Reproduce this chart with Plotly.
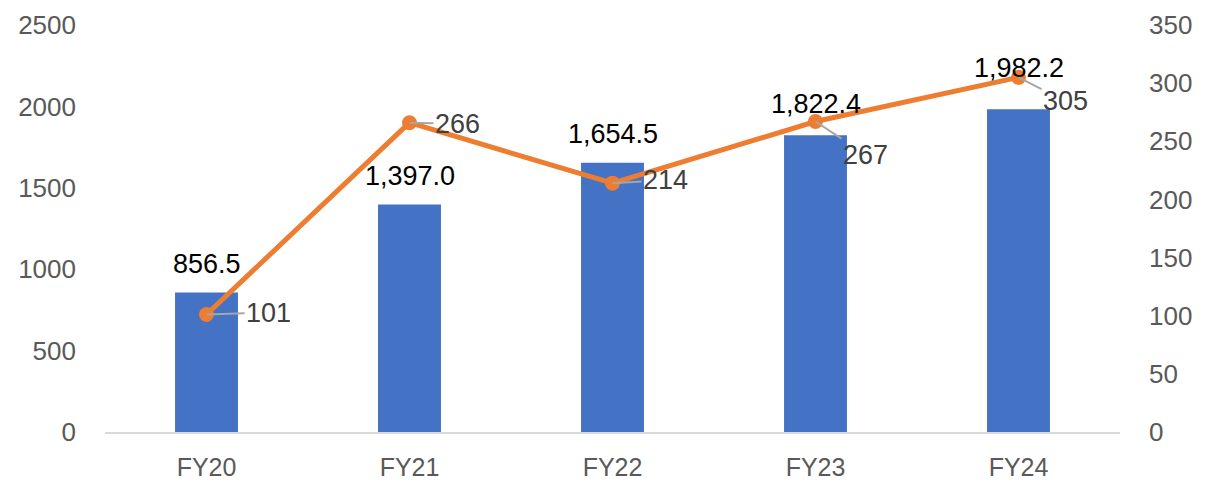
import plotly.graph_objects as go

# Data
years = ["FY20", "FY21", "FY22", "FY23", "FY24"]
bar_values = [856.5, 1397.0, 1654.5, 1822.4, 1982.2]
line_values = [101, 266, 214, 267, 305]

# label offsets (pixels) for the line labels
line_label_dx = [62, 48, 53, 50, 47]
line_label_dy = [-2, 1, -3, 33, 24]
bar_label_shift = [12, 12, 12, 14, 24]

FONT = "Liberation Sans Narrow, Arial Narrow, Liberation Sans, Arial, sans-serif"
BLUE = "#4472C4"
ORANGE = "#ED7D31"

fig = go.Figure()

fig.add_trace(go.Bar(
    x=years, y=bar_values, marker=dict(color=BLUE, line=dict(width=0)),
    yaxis="y", showlegend=False, hoverinfo="x+y"
))

fig.add_trace(go.Scatter(
    x=years, y=line_values, yaxis="y2", mode="lines+markers",
    line=dict(color=ORANGE, width=5),
    marker=dict(color=ORANGE, size=15),
    showlegend=False
))

# bar value labels
for yr, v, s in zip(years, bar_values, bar_label_shift):
    fig.add_annotation(
        x=yr, y=v, xref="x", yref="y", text=f"{v:,.1f}",
        showarrow=False, yanchor="bottom", yshift=s,
        font=dict(family=FONT, size=27, color="#000000")
    )

# line value labels with leader lines
for yr, v, dx, dy in zip(years, line_values, line_label_dx, line_label_dy):
    fig.add_annotation(
        x=yr, y=v, xref="x", yref="y2", text=str(v),
        showarrow=True, ax=dx, ay=dy, arrowhead=0, arrowwidth=2,
        arrowcolor="#A6A6A6", standoff=0,
        font=dict(family=FONT, size=27, color="#404040")
    )

# page has an 8px body margin, so the figure is a bit smaller than the window
fig.update_layout(
    width=1214, height=477,
    margin=dict(l=97, r=102, t=17, b=53),
    paper_bgcolor="white", plot_bgcolor="white",
    font=dict(family=FONT, size=26, color="#595959"),
    bargap=0.69,
    xaxis=dict(
        showgrid=False, showline=True, linecolor="#D9D9D9", linewidth=1.5,
        ticks="", automargin=False, ticklabelstandoff=12,
        tickfont=dict(size=25, color="#595959"),
    ),
    yaxis=dict(
        range=[0, 2500], dtick=500, showgrid=False, zeroline=False,
        showline=False, ticks="", ticklabelstandoff=28, automargin=False,
        tickfont=dict(size=26, color="#595959"),
    ),
    yaxis2=dict(
        range=[0, 350], dtick=50, overlaying="y", side="right",
        showgrid=False, zeroline=False, showline=False, ticks="",
        ticklabelstandoff=28, automargin=False,
        tickfont=dict(size=26, color="#595959"),
    ),
)

fig.write_html("out.html")
